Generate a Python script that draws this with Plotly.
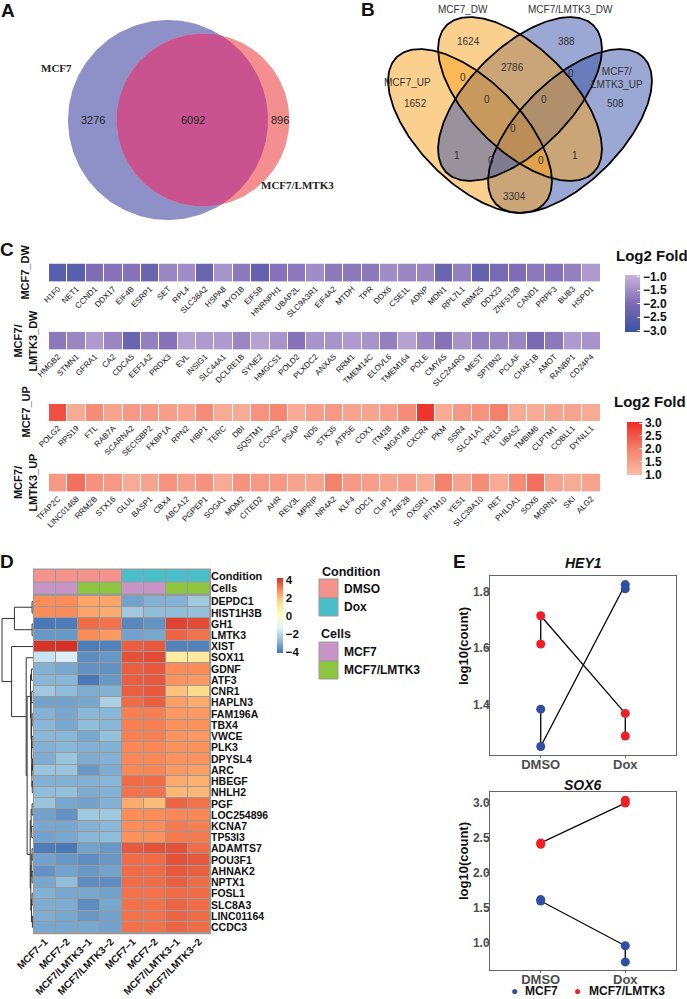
import numpy as np
import plotly.graph_objects as go

W, H = 687, 999
SANS = "Liberation Sans, Arial, Helvetica, sans-serif"
SERIF = "Liberation Serif, Times New Roman, serif"

# ======================= DATA =======================
# A: two-set Venn
venn2_names = ["MCF7", "MCF7/LMTK3"]
venn2_only1 = 3276
venn2_both = 6092
venn2_only2 = 896

# B: four-set Venn
venn4_names = ["MCF7_UP", "MCF7_DW", "MCF7/<br>LMTK3_UP", "MCF7/LMTK3_DW"]
venn4_counts = [1652, 1624, 388, 508, 0, 0, 2786, 0, 0, 0, 1, 1, 0, 0, 3304]

# C: log2 fold change rows
c_row_names = ["MCF7_DW", "MCF7/<br>LMTK3_DW", "MCF7_UP", "MCF7/<br>LMTK3_UP"]
c_mcf7_dw_genes = ["H1F0", "NET1", "CCND1", "DDX17", "EIF4B", "ESRP1", "SET", "RPL4", "SLC38A2", "HSPA8",
                   "MYO1B", "EIF5B", "HNRNPH1", "UBAP2L", "SLC9A3R1", "EIF4A2", "MTDH", "TPR", "DDX6", "CSE1L",
                   "ADNP", "MDN1", "RPL7L1", "RBM25", "DDX23", "ZNF512B", "CAND1", "PRPF3", "BUB3", "HSPD1"]
c_mcf7_dw_vals = [-2.6, -2.6, -2.0, -1.9, -1.9, -2.3, -1.6, -1.5, -2.3, -1.4,
                  -1.8, -2.4, -1.9, -1.8, -1.5, -1.8, -1.8, -1.8, -1.5, -1.6,
                  -1.6, -2.3, -1.7, -2.4, -2.1, -2.0, -1.8, -1.9, -1.7, -1.3]
c_lmtk3_dw_genes = ["HMGB2", "STMN1", "GFRA1", "CA2", "CDCA5", "EEF1A2", "PRDX3", "EVL", "INSIG1", "SLC44A1",
                    "DCLRE1B", "SYNE2", "HMGCS1", "POLD2", "PLXDC2", "ANXA5", "RRM1", "TMEM14C", "ELOVL6", "TMEM164",
                    "POLE", "CMYA5", "SLC2A4RG", "MEST", "SPTBN2", "PCLAF", "CHAF1B", "AMOT", "RANBP1", "CD24P4"]
c_lmtk3_dw_vals = [-1.8, -1.6, -1.3, -1.6, -2.3, -1.7, -1.9, -1.2, -1.3, -1.3,
                   -1.6, -1.2, -1.4, -1.9, -1.4, -1.4, -1.3, -1.4, -1.7, -1.2,
                   -1.6, -1.9, -1.4, -1.7, -1.6, -1.6, -2.1, -1.8, -1.3, -1.4]
c_mcf7_up_genes = ["POLG2", "RPS19", "FTL", "RAB7A", "SCARNA2", "SECISBP2", "FKBP1A", "RPN2", "HBP1", "TERC",
                   "DBI", "SQSTM1", "CCNG2", "PSAP", "ND5", "STK35", "ATP5E", "COX1", "ITM2B", "MGAT4B",
                   "CXCR4", "PKM", "SSR4", "SLC41A1", "YPEL3", "UBA52", "TMBIM6", "CLPTM1", "COBLL1", "DYNLL1"]
c_mcf7_up_vals = [2.6, 1.3, 1.8, 1.4, 1.6, 1.6, 1.5, 1.4, 1.8, 1.3,
                  1.3, 1.7, 1.9, 1.3, 1.5, 1.6, 1.4, 1.4, 1.5, 1.8,
                  2.9, 1.3, 1.6, 1.7, 2.0, 1.3, 1.3, 1.4, 1.4, 1.3]
c_lmtk3_up_genes = ["TFAP2C", "LINC01468", "RRM2B", "STX16", "GLUL", "BASP1", "CBX4", "ABCA12", "PGPEP1", "SOGA1",
                    "MDM2", "CITED2", "AHR", "REV3L", "MPRIP", "NR4A2", "KLF4", "ODC1", "CLIP1", "ZNF28",
                    "OXSR1", "IFITM10", "YES1", "SLC39A10", "RET", "PHLDA1", "SOX6", "MGRN1", "SKI", "ALG2"]
c_lmtk3_up_vals = [1.6, 2.2, 1.7, 1.6, 1.3, 1.4, 1.7, 1.5, 1.7, 1.3,
                   1.7, 1.6, 1.6, 1.4, 1.4, 2.0, 1.6, 1.5, 1.4, 1.5,
                   1.3, 2.0, 1.4, 1.8, 1.3, 1.8, 2.2, 1.4, 1.3, 1.4]
c_dw_ticks = [-3.0, -2.5, -2.0, -1.5, -1.0]
c_up_ticks = [1.0, 1.5, 2.0, 2.5, 3.0]

# D: heatmap of scaled expression
d_samples = ["MCF7−1", "MCF7−2", "MCF7/LMTK3−1", "MCF7/LMTK3−2",
             "MCF7−1", "MCF7−2", "MCF7/LMTK3−1", "MCF7/LMTK3−2"]
d_condition = ["DMSO", "DMSO", "DMSO", "DMSO", "Dox", "Dox", "Dox", "Dox"]
d_cells = ["MCF7", "MCF7", "MCF7/LMTK3", "MCF7/LMTK3", "MCF7", "MCF7", "MCF7/LMTK3", "MCF7/LMTK3"]
d_ann_rows = ["Condition", "Cells"]
d_genes = ["DEPDC1", "HIST1H3B", "GH1", "LMTK3", "XIST", "SOX11", "GDNF", "ATF3", "CNR1", "HAPLN3",
           "FAM196A", "TBX4", "VWCE", "PLK3", "DPYSL4", "ARC", "HBEGF", "NHLH2", "PGF", "LOC254896",
           "KCNA7", "TP53I3", "ADAMTS7", "POU3F1", "AHNAK2", "NPTX1", "FOSL1", "SLC8A3", "LINC01164", "CCDC3"]
d_values = [
    [2.9, 2.9, 2.5, 2.5, -3.2, -2.9, -2.9, -2.4],
    [2.9, 2.9, 2.5, 2.4, -2.4, -2.7, -2.7, -2.6],
    [-4.0, -3.9, 3.4, 3.3, -3.7, -3.5, 4.0, 3.9],
    [-3.4, -3.4, 2.9, 2.7, -3.2, -3.1, 3.5, 3.3],
    [4.25, 4.3, -3.9, -3.8, 3.6, 3.7, -3.8, -3.8],
    [-1.7, -1.35, -3.6, -3.4, 3.8, 3.9, 1.0, 1.1],
    [-2.9, -3.1, -3.5, -3.5, 3.6, 3.7, 2.9, 2.9],
    [-2.8, -2.8, -4.0, -3.4, 3.6, 3.7, 2.8, 2.7],
    [-2.4, -2.7, -3.0, -2.9, 3.6, 3.7, 2.0, 1.6],
    [-3.2, -3.2, -3.1, -2.2, 3.4, 3.6, 2.6, 2.4],
    [-2.9, -3.1, -2.8, -2.8, 3.1, 3.1, 2.7, 2.7],
    [-2.8, -3.1, -2.7, -2.8, 3.1, 3.1, 2.8, 2.8],
    [-2.8, -2.8, -3.1, -2.6, 3.1, 3.1, 2.8, 2.7],
    [-2.9, -2.8, -2.9, -2.9, 3.0, 3.0, 2.8, 2.8],
    [-3.0, -2.5, -3.0, -2.9, 3.0, 3.0, 2.8, 2.8],
    [-2.5, -2.5, -3.4, -3.0, 3.0, 3.0, 2.7, 2.6],
    [-2.9, -2.9, -2.9, -2.8, 3.4, 3.4, 2.4, 2.3],
    [-2.7, -2.6, -3.0, -2.9, 3.3, 3.3, 2.2, 2.2],
    [-2.5, -3.1, -3.2, -2.9, 2.4, 2.1, 3.5, 3.3],
    [-3.2, -3.5, -2.4, -2.4, 2.9, 2.9, 3.0, 3.0],
    [-3.1, -3.1, -2.9, -2.8, 2.9, 2.9, 3.2, 3.1],
    [-3.2, -3.1, -2.8, -2.7, 2.8, 2.8, 3.2, 3.2],
    [-3.9, -4.0, -3.2, -3.4, 3.7, 3.8, 3.8, 3.4],
    [-3.2, -3.4, -3.6, -3.4, 3.4, 3.4, 3.8, 3.7],
    [-3.5, -3.2, -3.4, -3.2, 3.4, 3.4, 3.7, 3.6],
    [-3.1, -2.7, -3.6, -3.6, 3.4, 3.4, 3.6, 3.4],
    [-2.9, -3.1, -3.1, -3.2, 3.3, 3.3, 3.4, 3.4],
    [-3.0, -3.0, -3.6, -3.1, 3.3, 3.3, 3.5, 3.4],
    [-3.0, -3.1, -3.4, -3.2, 3.3, 3.3, 3.5, 3.4],
    [-3.1, -3.1, -3.1, -3.2, 3.3, 3.3, 3.5, 3.4],
]
d_ticks = [-4, -2, 0, 2, 4]
# row dendrogram: (height, left, right), leaves are gene indices
d_tree = (1.0,
          (0.60, (0.03, 0, 1), (0.03, 2, 3)),
          (0.69, 4,
           (0.22, 5,
            (0.19,
             (0.08, (0.05, 6, 7),
              (0.06, (0.04, 8, 9),
               (0.05, (0.03, 10, 11),
                (0.04, (0.03, 12, 13), (0.035, (0.02, 14, 15), (0.025, 16, 17)))))),
             (0.09, (0.06, (0.03, 18, 19), (0.04, 20, 21)),
              (0.07, (0.04, (0.03, 22, 23), (0.03, 24, 25)), (0.05, (0.03, 26, 27), (0.02, 28, 29))))))))

# E: log10 counts
e_groups = ["MCF7", "MCF7/LMTK3"]
e_cond = ["DMSO", "DMSO", "Dox", "Dox"]
hey1_mcf7 = [1.385, 1.253, 1.825, 1.81]
hey1_lmtk3 = [1.615, 1.715, 1.37, 1.29]
sox6_mcf7 = [1.62, 1.60, 0.96, 0.73]
sox6_lmtk3 = [2.41, 2.43, 3.0, 3.04]

# ======================= HELPERS =======================
def fx(px):
    return px / W

def fy(py):
    return 1 - py / H

traces = []
annos = []
shapes = []

def text(x, y, s, size=10, color="#222", family=SANS, bold=False, italic=False, angle=0, xanchor="center",
         yanchor="middle", align="center"):
    annos.append(dict(x=x, y=y, xref="x", yref="y", text=s, showarrow=False, textangle=angle,
                      xanchor=xanchor, yanchor=yanchor, align=align,
                      font=dict(family=family, size=size, color=color,
                                weight="bold" if bold else "normal",
                                style="italic" if italic else "normal")))

# ---------------- Panel A: area-proportional 2-set Venn ----------------
r1 = 100.0
n1 = venn2_only1 + venn2_both
n2 = venn2_only2 + venn2_both
r2 = r1 * np.sqrt(n2 / n1)
target = np.pi * r1 ** 2 * venn2_both / n1

def lens_area(d):
    a1 = r1 ** 2 * np.arccos((d * d + r1 * r1 - r2 * r2) / (2 * d * r1))
    a2 = r2 ** 2 * np.arccos((d * d + r2 * r2 - r1 * r1) / (2 * d * r2))
    s = 0.5 * np.sqrt((-d + r1 + r2) * (d + r1 - r2) * (d - r1 + r2) * (d + r1 + r2))
    return a1 + a2 - s

lo, hi = r1 - r2 + 1e-6, r1 + r2 - 1e-6
for _ in range(80):
    mid = 0.5 * (lo + hi)
    if lens_area(mid) > target:
        lo = mid
    else:
        hi = mid
dist = 0.5 * (lo + hi)
cx1, cy0 = 168.0, 120.0
cx2 = cx1 + dist
t = np.linspace(0, 2 * np.pi, 241)
traces.append(go.Scatter(x=cx1 + r1 * np.cos(t), y=cy0 + r1 * np.sin(t), fill="toself", mode="lines",
                         line=dict(width=0), fillcolor="#8E91C8", hoverinfo="skip", showlegend=False,
                         xaxis="x", yaxis="y"))
traces.append(go.Scatter(x=cx2 + r2 * np.cos(t), y=cy0 + r2 * np.sin(t), fill="toself", mode="lines",
                         line=dict(width=0), fillcolor="#F38F8F", hoverinfo="skip", showlegend=False,
                         xaxis="x", yaxis="y"))
xi = (dist ** 2 + r1 ** 2 - r2 ** 2) / (2 * dist)
hh = np.sqrt(r1 ** 2 - xi ** 2)
th1 = np.arccos(xi / r1)
ph = np.arctan2(hh, xi - dist)
a1 = np.linspace(-th1, th1, 120)
a2 = np.linspace(ph, 2 * np.pi - ph, 160)
lx = np.concatenate([cx1 + r1 * np.cos(a1), cx2 + r2 * np.cos(a2)])
ly = np.concatenate([cy0 + r1 * np.sin(a1), cy0 + r2 * np.sin(a2)])
traces.append(go.Scatter(x=lx, y=ly, fill="toself", mode="lines", line=dict(width=0), fillcolor="#C9538F",
                         hoverinfo="skip", showlegend=False, xaxis="x", yaxis="y"))
text(56, 68, venn2_names[0], size=11, family=SERIF, bold=True, color="#222")
text(297, 185, venn2_names[1], size=11, family=SERIF, bold=True, color="#222")
text(93, 120, str(venn2_only1), size=11, color="#222")
text(193, 120, str(venn2_both), size=11, color="#222")
text(280, 120, str(venn2_only2), size=11, color="#222")

# ---------------- Panel B: 4-set Venn ----------------
# ellipses (cx, cy, a, b, angle deg in screen coords); drawing order sets the colour blend
ell = {
    "LUP": (570, 131, 104, 51, -45, "rgba(55,81,167,0.5)"),
    "UP": (470, 131, 104, 51, 45, "rgba(247,161,29,0.5)"),
    "LDW": (520, 99, 104, 51, -45, "rgba(55,81,167,0.5)"),
    "DW": (520, 99, 104, 51, 45, "rgba(247,161,29,0.5)"),
}
tt = np.linspace(0, 2 * np.pi, 241)
def ellipse_pts(cx, cy, a, b, ang):
    g = np.deg2rad(ang)
    x = cx + a * np.cos(tt) * np.cos(g) - b * np.sin(tt) * np.sin(g)
    y = cy + a * np.cos(tt) * np.sin(g) + b * np.sin(tt) * np.cos(g)
    return x, y
for k in ["LUP", "UP", "LDW", "DW"]:
    cx, cy, a, b, ang, col = ell[k]
    ex, ey = ellipse_pts(cx, cy, a, b, ang)
    traces.append(go.Scatter(x=ex, y=ey, fill="toself", mode="lines", line=dict(width=0), fillcolor=col,
                             hoverinfo="skip", showlegend=False, xaxis="x", yaxis="y"))
for k in ["LUP", "UP", "LDW", "DW"]:
    cx, cy, a, b, ang, col = ell[k]
    ex, ey = ellipse_pts(cx, cy, a, b, ang)
    traces.append(go.Scatter(x=ex, y=ey, mode="lines", line=dict(width=1.8, color="black"),
                             hoverinfo="skip", showlegend=False, xaxis="x", yaxis="y"))
venn4_label_pos = [(415, 103), (468, 41), (566, 41), (615, 103), (463, 77), (571, 73), (512, 67),
                   (487, 99), (544, 99), (513, 128), (457, 155), (575, 155), (491, 160), (541, 160), (514, 196)]
for (px, py), n in zip(venn4_label_pos, venn4_counts):
    text(px, py, str(n), size=10, color="#333")
text(407, 82, venn4_names[0], size=10, color="#333")
text(463, 9, venn4_names[1], size=10, color="#333")
text(617, 78, venn4_names[2], size=10, color="#333")
text(570, 9, venn4_names[3], size=10, color="#333")

# ---------------- Panel D dendrogram ----------------
D_X0, D_X1, D_Y0, D_Y1 = 34, 210, 596, 933
row_h = (D_Y1 - D_Y0) / len(d_genes)
leaf_y = [D_Y0 + (i + 0.5) * row_h for i in range(len(d_genes))]
dx, dy = [], []
def hx(h):
    return D_X0 - 1 - h * 31
def walk(node):
    if isinstance(node, int):
        return leaf_y[node], 0.0
    h, l, r = node
    yl, hl = walk(l)
    yr, hr = walk(r)
    dx.extend([hx(hl), hx(h), hx(h), hx(hr), None])
    dy.extend([yl, yl, yr, yr, None])
    return 0.5 * (yl + yr), h
walk(d_tree)
traces.append(go.Scatter(x=dx, y=dy, mode="lines", line=dict(color="#333", width=1), hoverinfo="skip",
                         showlegend=False, xaxis="x", yaxis="y"))

# ---------------- Panel C heatmaps ----------------
C_X0, C_X1 = 49, 600.5
c_rows = [(c_mcf7_dw_genes, c_mcf7_dw_vals, 263.5, 281.7, "coloraxis"),
          (c_lmtk3_dw_genes, c_lmtk3_dw_vals, 331.7, 349.5, "coloraxis"),
          (c_mcf7_up_genes, c_mcf7_up_vals, 404, 421, "coloraxis2"),
          (c_lmtk3_up_genes, c_lmtk3_up_vals, 473.5, 491.7, "coloraxis2")]
layout_axes = {}
for i, (genes, vals, y0, y1, cax) in enumerate(c_rows):
    n = i + 2
    traces.append(go.Heatmap(z=[vals], x=genes, y=[c_row_names[i]], coloraxis=cax, xgap=1, ygap=0,
                             hoverinfo="skip", xaxis=f"x{n}", yaxis=f"y{n}"))
    layout_axes[f"xaxis{n}"] = dict(domain=[fx(C_X0), fx(C_X1)], anchor=f"y{n}", tickangle=-45,
                                    tickmode="array", tickvals=genes, ticktext=genes,
                                    tickfont=dict(family=SANS, size=8, color="#111"), ticks="",
                                    showgrid=False, zeroline=False, showline=False, fixedrange=True)
    layout_axes[f"yaxis{n}"] = dict(domain=[fy(y1), fy(y0)], anchor=f"x{n}", showticklabels=False,
                                    ticks="", showgrid=False, zeroline=False, fixedrange=True)
    text(25, 0.5 * (y0 + y1), c_row_names[i], size=11, bold=True, angle=-90, color="#111")

# ---------------- Panel D heatmap ----------------
cond_colors = {"DMSO": "#F4928B", "Dox": "#48BFCB"}
cell_colors = {"MCF7": "#C796C7", "MCF7/LMTK3": "#8DC63F"}
ann_cats = list(cond_colors) + list(cell_colors)
ann_cols = list(cond_colors.values()) + list(cell_colors.values())
ann_z = [[ann_cats.index(c) for c in d_condition], [ann_cats.index(c) for c in d_cells]]
k = len(ann_cols)
ann_scale = []
for j, c in enumerate(ann_cols):
    ann_scale += [[j / k, c], [(j + 1) / k, c]]
xs = list(range(len(d_samples)))
traces.append(go.Heatmap(z=ann_z, x=xs, y=[0, 1], colorscale=ann_scale, zmin=-0.5,
                         zmax=k - 0.5, showscale=False, xgap=1, ygap=1, hoverinfo="skip",
                         xaxis="x6", yaxis="y6"))
traces.append(go.Heatmap(z=d_values, x=xs, y=list(range(len(d_genes))), coloraxis="coloraxis3",
                         xgap=1, ygap=1, hoverinfo="skip", xaxis="x7", yaxis="y7"))

layout_axes["xaxis6"] = dict(domain=[fx(D_X0), fx(D_X1)], anchor="y6", showticklabels=False, ticks="",
                             showgrid=False, zeroline=False, range=[-0.5, 7.5], fixedrange=True)
layout_axes["yaxis6"] = dict(domain=[fy(594.5), fy(569.5)], anchor="x6", side="right", autorange="reversed",
                             tickmode="array", tickvals=[0, 1], ticktext=d_ann_rows,
                             ticks="", showgrid=False, zeroline=False, fixedrange=True,
                             tickfont=dict(family=SANS, size=11, color="#111", weight="bold"))
layout_axes["xaxis7"] = dict(domain=[fx(D_X0), fx(D_X1)], anchor="y7", tickmode="array", tickvals=xs,
                             ticktext=d_samples, tickangle=-45, ticks="", showgrid=False, zeroline=False,
                             range=[-0.5, 7.5],
                             tickfont=dict(family=SANS, size=10, color="#111", weight="bold"), fixedrange=True)
layout_axes["yaxis7"] = dict(domain=[fy(D_Y1), fy(D_Y0)], anchor="x7", side="right", autorange="reversed",
                             tickmode="array", tickvals=list(range(len(d_genes))), ticktext=d_genes,
                             ticks="", showgrid=False, zeroline=False, fixedrange=True,
                             tickfont=dict(family=SANS, size=10.5, color="#111", weight="bold"))
for ax, pady in [("x6", 0.04), ("x7", 0.004)]:
    shapes.append(dict(type="rect", xref=f"{ax} domain", yref=f"y{ax[1:]} domain", x0=-0.006, x1=1.006,
                       y0=-pady, y1=1 + pady, fillcolor="#9A9A9A", line=dict(width=0), layer="below"))

# D legends
for (lbl, y0, y1), col in zip([("DMSO", 579, 598), ("Dox", 598, 616)], cond_colors.values()):
    shapes.append(dict(type="rect", xref="x", yref="y", x0=319, x1=338, y0=y0, y1=y1, fillcolor=col,
                       line=dict(color="#9A9A9A", width=1)))
    text(342, 0.5 * (y0 + y1), lbl, size=12, bold=True, xanchor="left", color="#111")
for (lbl, y0, y1), col in zip([("MCF7", 642, 661), ("MCF7/LMTK3", 661, 679)], cell_colors.values()):
    shapes.append(dict(type="rect", xref="x", yref="y", x0=319, x1=338, y0=y0, y1=y1, fillcolor=col,
                       line=dict(color="#9A9A9A", width=1)))
    text(342, 0.5 * (y0 + y1), lbl, size=12, bold=True, xanchor="left", color="#111")
text(320, 572, "Condition", size=12.5, bold=True, xanchor="left", color="#111")
text(319, 634, "Cells", size=12.5, bold=True, xanchor="left", color="#111")

# ---------------- Panel E ----------------
BLUE, RED = "#2F4FA3", "#EE1F26"
def e_axes(n, y0, y1, rng, dtick):
    layout_axes[f"xaxis{n}"] = dict(domain=[fx(490), fx(676)], anchor=f"y{n}", type="category",
                                    categoryorder="array", categoryarray=["DMSO", "Dox"],
                                    range=[-0.6, 1.6], showline=True, mirror=True, linecolor="#666",
                                    linewidth=1, ticks="outside", ticklen=2, tickcolor="#666",
                                    ticklabelstandoff=-5,
                                    showgrid=False, zeroline=False, fixedrange=True,
                                    tickfont=dict(family=SANS, size=13, color="#4D4D4D", weight="bold"))
    layout_axes[f"yaxis{n}"] = dict(domain=[fy(y1), fy(y0)], anchor=f"x{n}", range=rng, dtick=dtick,
                                    tickformat=".1f", showline=True, mirror=True, linecolor="#666",
                                    linewidth=1, ticks="outside", ticklen=3, tickcolor="#666",
                                    ticklabelstandoff=-6,
                                    showgrid=False, zeroline=False, fixedrange=True,
                                    tickfont=dict(family=SANS, size=12, color="#4D4D4D", weight="bold"))
e_axes(8, 575.5, 755, [1.223, 1.857], 0.2)
e_axes(9, 792, 970, [0.614, 3.157], 0.5)
for n, vals_m, vals_l in [(8, hey1_mcf7, hey1_lmtk3), (9, sox6_mcf7, sox6_lmtk3)]:
    for vals in (vals_m, vals_l):
        traces.append(go.Scatter(x=e_cond, y=vals, mode="lines", line=dict(color="black", width=1.3),
                                 hoverinfo="skip", showlegend=False, xaxis=f"x{n}", yaxis=f"y{n}"))
    for vals, col, name in ((vals_m, BLUE, e_groups[0]), (vals_l, RED, e_groups[1])):
        traces.append(go.Scatter(x=e_cond, y=vals, mode="markers", marker=dict(color=col, size=9),
                                 name=name, showlegend=False, hoverinfo="skip",
                                 xaxis=f"x{n}", yaxis=f"y{n}"))
text(583, 563, "HEY1", size=14, bold=True, italic=True, color="#111")
text(583, 785, "SOX6", size=14, bold=True, italic=True, color="#111")
text(463, 646, "log10(count)", size=13, bold=True, angle=-90, color="#111")
text(463, 861, "log10(count)", size=13, bold=True, angle=-90, color="#111")
# legend for E (drawn as text with coloured dots)
for (dot_x, txt_x), col, name in zip([(514, 523), (577, 587)], [BLUE, RED], e_groups):
    text(dot_x, 991, "●", size=12, color=col)
    text(txt_x, 991, name, size=12, bold=True, color="#111", xanchor="left")

# colorbar titles
text(652, 255, "Log2 Fold", size=15, bold=True, color="#111")
text(650, 401, "Log2 Fold", size=15, bold=True, color="#111")

# panel letters
for L, px, py in [("A", 8, 10), ("B", 368, 9), ("C", 7, 249), ("D", 7, 561), ("E", 459, 561)]:
    text(px, py, L, size=19, bold=True, color="#111")

# ======================= FIGURE =======================
fig = go.Figure(data=traces)
cbfont = dict(family=SANS, size=12, color="#111", weight="bold")
fig.update_layout(
    width=W, height=H, margin=dict(l=0, r=0, t=0, b=0, pad=0, autoexpand=False),
    paper_bgcolor="white", plot_bgcolor="rgba(0,0,0,0)", showlegend=False,
    xaxis=dict(domain=[0, 1], range=[0, W], visible=False, fixedrange=True),
    yaxis=dict(domain=[0, 1], range=[H, 0], visible=False, fixedrange=True),
    coloraxis=dict(colorscale=[[0, "#3953A4"], [0.5, "#7E6CB4"], [1, "#C8B3DC"]], cmin=-3.06, cmax=-0.93,
                   colorbar=dict(x=fx(625), xanchor="left", xpad=0, y=fy(303.5), yanchor="middle",
                                 len=77, lenmode="pixels", thickness=15, outlinewidth=0,
                                 tickvals=c_dw_ticks, tickformat=".1f", ticks="inside", ticklen=3,
                                 tickcolor="white", tickfont=cbfont)),
    coloraxis2=dict(colorscale=[[0, "#F9BDA7"], [0.5, "#F4806B"], [1, "#EE2A24"]], cmin=0.98, cmax=3.04,
                    colorbar=dict(x=fx(627), xanchor="left", xpad=0, y=fy(448.5), yanchor="middle",
                                  len=73, lenmode="pixels", thickness=15, outlinewidth=0,
                                  tickvals=c_up_ticks, tickformat=".1f", ticks="inside", ticklen=3,
                                  tickcolor="white", tickfont=cbfont)),
    coloraxis3=dict(colorscale=[[0, "#4575B4"], [1 / 6, "#91BFDB"], [2 / 6, "#E0F3F8"], [3 / 6, "#FFFFBF"],
                                [4 / 6, "#FEE090"], [5 / 6, "#FC8D59"], [1, "#D73027"]],
                    cmin=-4.05, cmax=4.3,
                    colorbar=dict(x=fx(277), xanchor="left", xpad=0, y=fy(615), yanchor="middle",
                                  len=95, lenmode="pixels", thickness=6, outlinewidth=0,
                                  tickvals=d_ticks, ticks="", tickfont=dict(family=SANS, size=11.5,
                                                                            color="#111", weight="bold"))),
    annotations=annos, shapes=shapes,
    font=dict(family=SANS),
)
fig.update_layout(**layout_axes)
fig.write_html("out.html", config={"displayModeBar": False, "staticPlot": True},
               post_script="document.body.style.margin='0px';document.body.style.overflow='hidden';")
